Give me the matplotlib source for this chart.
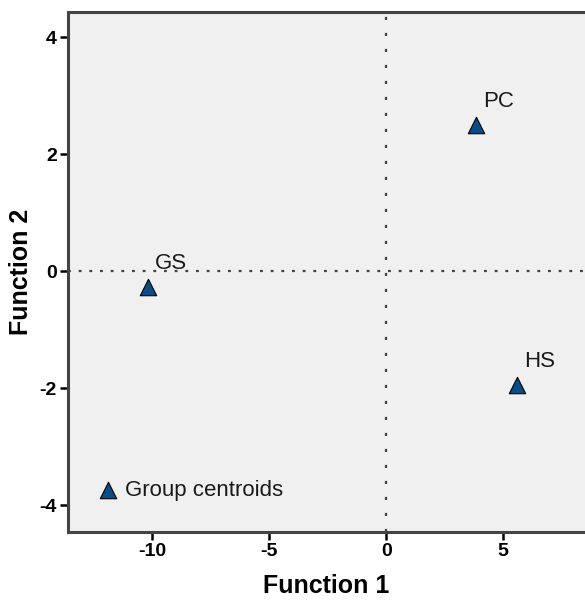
import matplotlib
matplotlib.use('Agg')
import matplotlib.pyplot as plt

plt.rcParams['font.family'] = ['Liberation Sans', 'DejaVu Sans']
plt.rcParams['axes.unicode_minus'] = False

groups = ['PC', 'GS', 'HS']
func1 = [3.85, -10.17, 5.6]
func2 = [2.50, -0.27, -1.95]

xticks = [-10, -5, 0, 5]
yticks = [-4, -2, 0, 2, 4]

fig = plt.figure(figsize=(5.85, 6.01), dpi=100)
ax = fig.add_axes([68 / 585, 1 - 532 / 601, 1 - 68 / 585, 520 / 601])
ax.set_facecolor('#f0f0f0')

ax.axvline(0, color='#444444', linestyle=(0, (1.4, 5.8)), linewidth=1.6, zorder=1)
ax.axhline(0, color='#444444', linestyle=(0, (1.3, 3.5)), linewidth=1.6, zorder=1)

ax.scatter(func1, func2, marker='^', s=140, color='#0b4c86', edgecolor='black',
           linewidth=0.8, zorder=3, label='Group centroids')
for g, x, y in zip(groups, func1, func2):
    ax.annotate(g, (x, y), xytext=(5, 13), textcoords='offset points',
                fontsize=16, color='#1a1a1a')

ax.set_xlim(-13.6, 8.5)
ax.set_ylim(-4.46, 4.43)
ax.set_xticks(xticks)
ax.set_yticks(yticks)
ax.tick_params(direction='out', length=6, width=1.8, color='black',
               labelsize=14, pad=2)
for lab in ax.get_xticklabels() + ax.get_yticklabels():
    lab.set_fontweight('bold')

for side in ['left', 'bottom', 'top']:
    ax.spines[side].set_color('#444444')
    ax.spines[side].set_linewidth(2.2)
ax.spines['right'].set_visible(False)

ax.set_xlabel('Function 1', fontsize=18, fontweight='bold', labelpad=10)
ax.set_ylabel('Function 2', fontsize=18, fontweight='bold', labelpad=5)

leg = ax.legend(loc='center left', bbox_to_anchor=(0.056, 0.08), frameon=False,
                fontsize=16, handlelength=1.0, handletextpad=0.27, borderpad=0,
                borderaxespad=0)
for t in leg.get_texts():
    t.set_color('#1a1a1a')

fig.savefig('out.png', dpi=100)
